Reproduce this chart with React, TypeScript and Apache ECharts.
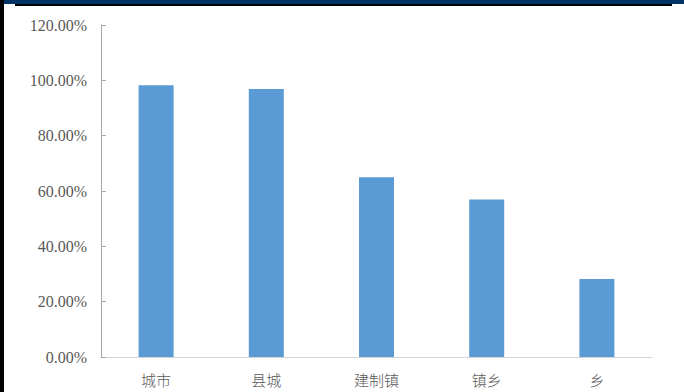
import React, { useEffect, useRef } from "react";
import * as echarts from "echarts";

const categories = ["城市", "县城", "建制镇", "镇乡", "乡"];
const values = [98.2, 96.9, 65.0, 56.9, 28.2];
const yTicks = { min: 0, max: 120, interval: 20 };

export default function App() {
  const ref = useRef<HTMLDivElement>(null);
  useEffect(() => {
    if (!ref.current) return;
    const chart = echarts.init(ref.current, undefined, { renderer: "svg" });
    chart.setOption({
      animation: false,
      backgroundColor: "#ffffff",
      grid: { left: 101, right: 32, top: 25, bottom: 35, containLabel: false },
      xAxis: {
        type: "category",
        data: categories,
        axisLine: { show: true, lineStyle: { color: "#d4d4d4", width: 1 } },
        axisTick: { show: false },
        axisLabel: {
          color: "#595959",
          fontSize: 15,
          fontFamily: "Noto Sans CJK SC",
          fontWeight: 300,
          margin: 15,
        },
      },
      yAxis: {
        type: "value",
        min: yTicks.min,
        max: yTicks.max,
        interval: yTicks.interval,
        axisLine: { show: true, lineStyle: { color: "#a6a6a6", width: 1 } },
        axisTick: { show: true, inside: true, length: 5, lineStyle: { color: "#a6a6a6" } },
        splitLine: { show: false },
        axisLabel: {
          color: "#595959",
          fontSize: 16,
          fontFamily: "Liberation Serif",
          margin: 14,
          formatter: (v: number) => v.toFixed(2) + "%",
        },
      },
      series: [
        {
          type: "bar",
          data: values,
          barWidth: 35,
          itemStyle: { color: "#5B9BD5" },
        },
      ],
      graphic: [
        { type: "rect", shape: { x: 0, y: 0, width: 684, height: 4 }, style: { fill: "#003466" }, z: 100 },
        { type: "rect", shape: { x: 15, y: 4, width: 657, height: 2 }, style: { fill: "#000000" }, z: 100 },
        { type: "rect", shape: { x: 0, y: 0, width: 4, height: 392 }, style: { fill: "#000000" }, z: 100 },
      ],
    });
    return () => chart.dispose();
  }, []);
  return (
    <div
      ref={ref}
      style={{ position: "fixed", left: 0, top: 0, width: 684, height: 392 }}
    />
  );
}
